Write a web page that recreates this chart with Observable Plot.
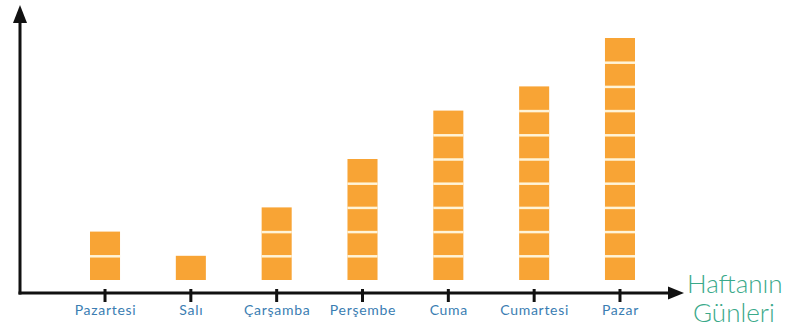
<!DOCTYPE html>
<html>
<head>
<meta charset="utf-8">
<script src="https://cdn.jsdelivr.net/npm/d3@7"></script>
<script src="https://cdn.jsdelivr.net/npm/@observablehq/plot@0.6"></script>
<style>
  html, body { margin: 0; padding: 0; background: #ffffff; }
  #chart svg { display: block; }
</style>
</head>
<body>
<div id="chart"></div>
<script>
const days = ["Pazartesi", "Salı", "Çarşamba", "Perşembe", "Cuma", "Cumartesi", "Pazar"];
const counts = [2, 1, 3, 5, 7, 8, 10];
const axisTitle = ["Haftanın", "Günleri"];

const units = [];
const seps = [];
days.forEach((d, i) => {
  for (let k = 0; k < counts[i]; k++) {
    units.push({day: d, k0: k, k1: k + 1});
    if (k > 0) seps.push({day: d, k: k});
  }
});

const chart = Plot.plot({
  width: 791,
  height: 328,
  marginLeft: 20,
  marginRight: 100,
  marginTop: 0,
  marginBottom: 35,
  style: {background: "#ffffff", fontFamily: "Lato, 'Open Sans', sans-serif"},
  x: {domain: days, range: [62.1, 662.9], paddingInner: 0.65, paddingOuter: 0.325, round: false, label: null},
  y: {domain: [0, 10], range: [280, 38], axis: null},
  marks: [
    Plot.barY(units, {x: "day", y1: "k0", y2: "k1", fill: "#f8a435"}),
    Plot.tickY(seps, {x: "day", y: "k", stroke: "#fff4d8", strokeWidth: 2.5}),
    Plot.axisX({tickSize: 0, tickPadding: 12, fontSize: 14, fill: "#3a7db2", label: null})
  ]
});

document.getElementById("chart").appendChild(chart);

const svg = d3.select(chart);
svg.selectAll("[aria-label='x-axis tick label'] text").style("letter-spacing", "0.7px");
const sx = chart.scale("x");
const g = svg.append("g");
// y axis line + arrowhead
g.append("rect").attr("x", 18.5).attr("y", 20).attr("width", 3).attr("height", 274.5).attr("fill", "#111");
g.append("path").attr("d", "M20,5 L27,23 L13,23 Z").attr("fill", "#111");
// x axis line + arrowhead
g.append("rect").attr("x", 18.5).attr("y", 291.5).attr("width", 652).attr("height", 3).attr("fill", "#111");
g.append("path").attr("d", "M684,293 L668,286.5 L668,299.5 Z").attr("fill", "#111");
// ticks at band centres
days.forEach(d => {
  const x = sx.apply(d) + sx.bandwidth / 2;
  g.append("rect").attr("x", x - 1.5).attr("y", 289).attr("width", 3).attr("height", 13).attr("fill", "#111");
});
// axis title
g.append("text").attr("fill", "#3aa98a").attr("font-family", "Lato, sans-serif")
  .attr("font-weight", 300).attr("font-size", 26).attr("text-anchor", "start")
  .attr("x", 687).attr("y", 293).text(axisTitle[0]);
g.append("text").attr("fill", "#3aa98a").attr("font-family", "Lato, sans-serif")
  .attr("font-weight", 300).attr("font-size", 26).attr("text-anchor", "start")
  .attr("x", 693).attr("y", 322).text(axisTitle[1]);
</script>
</body>
</html>
